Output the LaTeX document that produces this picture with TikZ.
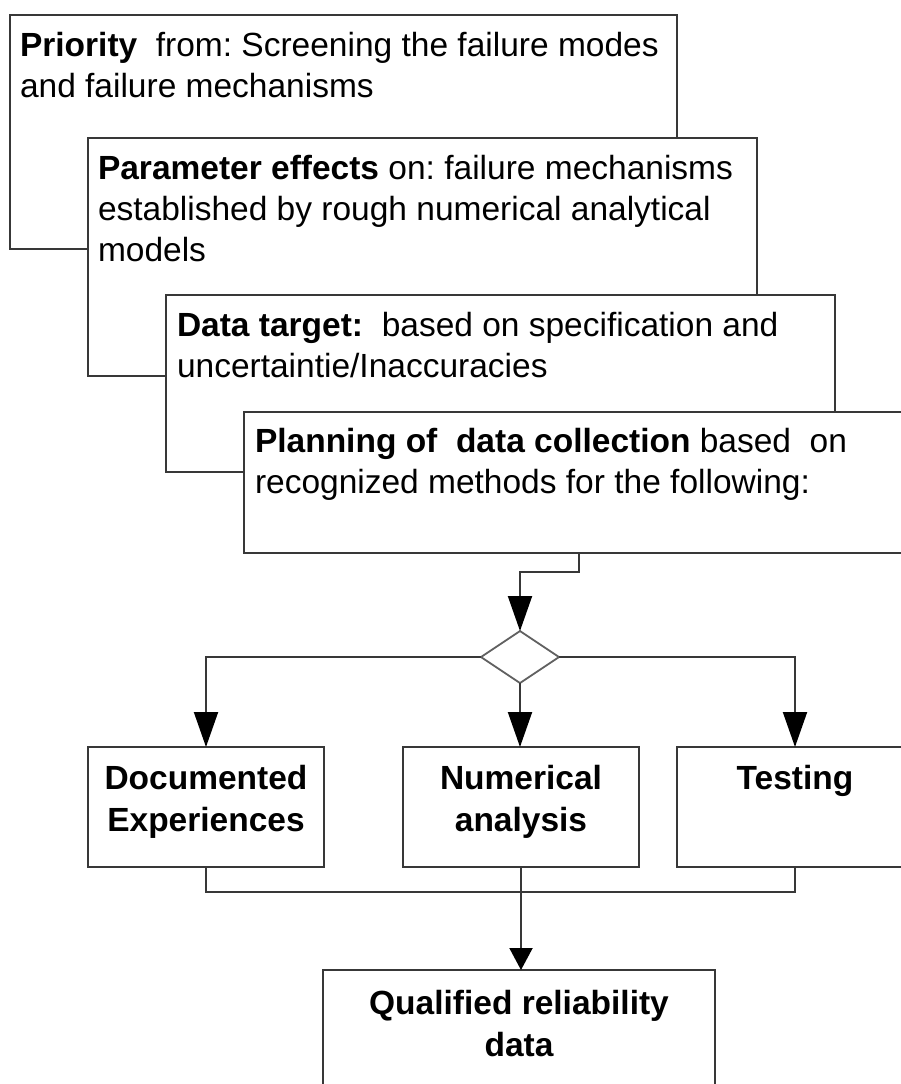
\documentclass[tikz,border=0pt]{standalone}
\usepackage{fontspec}
\setmainfont{Liberation Sans}
\usetikzlibrary{shapes.geometric,arrows.meta}
\frenchspacing
\begin{document}
\begin{tikzpicture}[x=1pt,y=-1pt,
  box/.style={rectangle, draw=black!78, line width=2pt, fill=white, inner sep=0pt, outer sep=0pt, anchor=north west},
  txt/.style={inner sep=0pt, outer sep=0pt, anchor=north west, align=left, font=\fontsize{33.5}{41}\selectfont\frenchspacing},
  ctxt/.style={inner sep=0pt, outer sep=0pt, anchor=north, align=center, font=\bfseries\fontsize{33.5}{42}\selectfont},
  conn/.style={draw=black!78, line width=2pt},
  arr/.style={conn, -{Triangle[length=35pt,width=24pt,color=black]}},
  arrs/.style={conn, -{Triangle[length=22pt,width=23pt,color=black]}},
]
\clip (0,0) rectangle (901,1084);
\fill[white] (0,0) rectangle (901,1084);

% staircase of boxes
\node[box, minimum width=667pt, minimum height=234pt] (b1) at (10,15) {};
\node[txt] (t1) at (20,32) {\textbf{Priority}\ \ from: Screening the failure modes\\and failure mechanisms};

\node[box, minimum width=669pt, minimum height=238pt] (b2) at (88,138) {};
\node[txt] (t2) at (98,155) {\textbf{Parameter effects} on: failure mechanisms\\established by rough numerical analytical\\models};

\node[box, minimum width=669pt, minimum height=177pt] (b3) at (166,295) {};
\node[txt] (t3) at (177,312) {\textbf{Data target:}\ \ based on specification and\\uncertaintie/Inaccuracies};

\node[box, minimum width=670pt, minimum height=141pt] (b4) at (244,412) {};
\node[txt] (t4) at (255,428) {\textbf{Planning of\ \ data collection} based\ \ on\\recognized methods for the following:};

% decision
\node[diamond, draw=black!62, line width=1.8pt, fill=white, inner sep=0pt, outer sep=0pt,
      minimum width=78pt, minimum height=52pt] (dia) at (520,657) {};

% three methods
\node[box, minimum width=236pt, minimum height=120pt] (doc) at (88,747) {};
\node[ctxt] (tdoc) at (doc.north |- 0,765) {Documented\\Experiences};
\node[box, minimum width=236pt, minimum height=120pt] (num) at (403,747) {};
\node[ctxt] (tnum) at (num.north |- 0,765) {Numerical\\analysis};
\node[box, minimum width=236pt, minimum height=120pt] (tst) at (677,747) {};
\node[ctxt] (ttst) at (tst.north |- 0,765) {Testing};

% result
\node[box, minimum width=392pt, minimum height=140pt] (qual) at (323,970) {};
\node[ctxt] (tqual) at (qual.north |- 0,990) {Qualified reliability\\data};

% connectors
\coordinate (k) at (b4.south |- 0,572);
\draw[arr] (b4.south) -- (k) -| (dia.north);
\draw[arr] (dia.west) -| (doc.north);
\draw[arr] (dia.south) -- (dia.south |- num.north);
\draw[arr] (dia.east) -| (tst.north);
\coordinate (jl) at (doc.south |- 0,892);
\coordinate (jm) at (num.south |- 0,892);
\draw[conn] (doc.south) -- (jl) -| (tst.south);
\draw[conn] (num.south) -- (jm);
\draw[arrs] (jm) -- (jm |- qual.north);
\end{tikzpicture}
\end{document}
